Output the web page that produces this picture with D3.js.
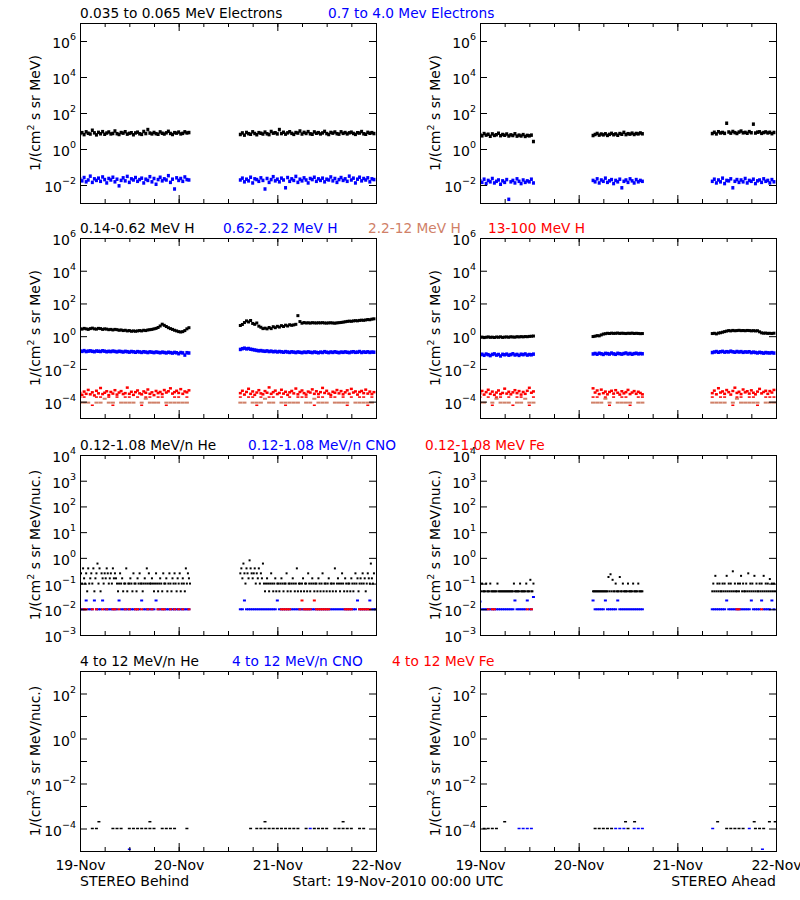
<!DOCTYPE html>
<html><head><meta charset="utf-8">
<script src="https://cdn.jsdelivr.net/npm/d3@7"></script>
<style>body{margin:0;background:#fff}svg{display:block}text{font-family:"DejaVu Sans",sans-serif}</style>
</head><body><svg id="c" width="800" height="900"></svg>
<script>
const _ = null;
const START = Date.UTC(2010, 10, 19);
const dayLabels = ["19-Nov", "20-Nov", "21-Nov", "22-Nov"];
// data segment start hours (Behind, Ahead)
const segStartsBehind = [0, 39];
const segStartsAhead = [0, 27.5, 56.5];

// ---------- Row 1: electrons (30-min samples) ----------
const eLoBehind = [
 [7.2,8.1,6.3,9.0,7.5,6.8,11,7.9,6.1,8.4,7.0,9.2,6.6,7.7,8.8,6.9,7.3,10,7.1,6.4,8.2,7.6,9.1,6.7,7.4,8.0,6.2,7.8,8.6,7.0,6.5,9.4,7.2,12,7.7,6.9,8.3,7.1,6.6,8.9,7.5,6.8,7.9,9.6,7.3,6.4,8.1,7.6,8.7,6.9,7.4,9.0,7.8,8.2],
 [6.4,7.8,5.9,8.3,7.1,6.6,9.0,7.3,6.2,8.1,7.5,6.8,8.7,7.0,6.3,9.4,7.6,8.0,6.9,12,7.2,8.5,6.7,7.9,9.1,7.4,6.5,8.2,7.7,10,6.8,8.4,7.3,9.2,7.0,6.6,8.9,7.5,8.1,6.9,7.8,9.5,7.2,6.4,8.3,7.6,8.8,7.1,6.7,9.0,7.4,8.2,6.9,7.9,8.6,7.3,6.5,8.0,7.7,9.3,7.0,6.6,8.4,7.5,8.1,7.2]];
const eHiBehind = [
 [.021,.017,.026,.015,.019,.031,.014,.022,.018,.024,.016,.028,.020,.013,.023,.019,.027,.015,.021,.009,.018,.025,.017,.030,.014,.022,.019,.026,.016,.020,.024,.013,.021,.018,.029,.015,.023,.011,.020,.027,.017,.022,.019,.033,.014,.021,.006,.025,.018,.023,.016,.028,.020,.019],
 [.019,.024,.015,.021,.017,.027,.013,.022,.020,.016,.025,.018,.006,.023,.014,.020,.029,.017,.021,.015,.024,.019,.007,.026,.016,.022,.018,.030,.014,.021,.017,.025,.019,.013,.023,.020,.027,.016,.022,.018,.024,.015,.021,.019,.028,.017,.023,.014,.020,.026,.018,.022,.016,.031,.019,.024,.013,.021,.027,.017,.023,.019,.025,.015,.022,.020]];
const eLoAhead = [
 [6.3,5.4,7.2,5.9,6.6,5.1,6.9,5.7,6.2,7.5,5.5,6.4,5.8,6.8,5.3,6.1,5.6,7.0,5.2,5.9,5.3,6.3,5.0,5.7,5.4,5.9,2.6],
 [5.6,6.4,7.3,5.9,6.8,6.1,7.0,5.7,6.5,7.4,6.2,6.9,5.8,7.2,6.6,8.4,6.3,7.1,6.7,7.6,6.4,7.3,6.9,7.8,7.0],
 [7.2,8.5,6.9,9.1,7.8,8.3,7.4,27,8.8,7.6,9.4,8.1,7.3,8.7,9.9,7.9,8.4,7.5,9.2,8.0,24,7.7,8.6,9.0,7.4,8.2,8.9,7.8,8.5,7.1,8.3]];
const eHiAhead = [
 [.017,.014,.021,.012,.018,.015,.023,.013,.016,.019,.011,.017,.014,.020,.0016,.015,.018,.013,.022,.016,.012,.019,.014,.017,.015,.021,.013],
 [.018,.015,.022,.013,.019,.016,.024,.014,.017,.020,.012,.018,.015,.021,.007,.016,.019,.014,.022,.017,.013,.020,.015,.018,.016],
 [.016,.021,.013,.019,.015,.024,.012,.018,.017,.022,.007,.016,.020,.014,.019,.015,.023,.013,.018,.016,.021,.012,.017,.019,.014,.022,.016,.018,.013,.020,.015]];

// ---------- Row 2: protons ----------
const h1Behind = [
 [2.9,2.7,3.0,2.8,2.6,2.9,3.1,2.8,2.7,3.0,2.9,2.6,2.8,2.7,2.5,2.6,2.4,2.6,2.5,2.3,2.4,2.2,2.3,2.1,2.2,2.0,2.1,2.0,2.1,2.2,2.1,2.3,2.2,2.4,2.5,2.6,2.8,3.0,3.4,4.2,5.4,4.6,3.9,3.3,2.9,2.6,2.3,2.1,1.9,1.8,1.9,2.2,2.8,3.3],
 [4.5,5.2,6.8,8.6,7.4,9.1,6.0,5.3,6.4,4.1,3.5,2.9,3.1,2.8,3.4,2.9,3.8,3.3,4.0,3.6,4.4,3.9,4.7,4.2,5.0,4.6,4.9,5.3,18,7.8,6.2,6.8,6.4,6.6,6.3,6.7,6.5,6.4,6.6,6.5,6.7,6.4,6.3,6.5,6.6,6.4,6.2,6.5,6.7,6.9,7.2,7.6,8.0,8.3,8.1,8.6,8.9,8.7,9.2,9.5,9.3,9.8,10.4,10.1,11,11.5]];
const h2Behind = [
 [.125,.118,.131,.115,.122,.127,.119,.113,.124,.12,.116,.128,.121,.112,.119,.114,.123,.117,.11,.12,.115,.108,.118,.113,.106,.116,.111,.104,.114,.109,.102,.112,.107,.1,.11,.105,.099,.108,.103,.097,.106,.101,.095,.104,.099,.093,.102,.097,.085,.1,.095,.07,.098,.094],
 [.155,.172,.185,.168,.176,.16,.152,.143,.135,.128,.132,.124,.119,.126,.115,.122,.112,.118,.109,.116,.111,.105,.114,.108,.102,.111,.106,.1,.109,.104,.098,.107,.102,.11,.104,.099,.108,.103,.097,.106,.101,.113,.105,.099,.108,.102,.111,.104,.098,.107,.103,.11,.104,.099,.108,.112,.103,.106,.115,.101,.109,.104,.111,.102,.107,.105]];
const h3Behind = [
 [8.7e-5,8.7e-5,8.7e-5,_,8.7e-5,8.7e-5,1.5e-4,8.7e-5,8.7e-5,_,8.7e-5,8.7e-5,8.7e-5,8.7e-5,_,8.7e-5,1.5e-4,8.7e-5,8.7e-5,8.7e-5,_,8.7e-5,8.7e-5,8.7e-5,8.7e-5,8.7e-5,8.7e-5],
 [8.7e-5,8.7e-5,_,8.7e-5,8.7e-5,8.7e-5,1.5e-4,8.7e-5,8.7e-5,_,8.7e-5,8.7e-5,8.7e-5,8.7e-5,8.7e-5,_,8.7e-5,8.7e-5,1.5e-4,8.7e-5,8.7e-5,8.7e-5,_,8.7e-5,8.7e-5,8.7e-5,8.7e-5,_,8.7e-5,8.7e-5,8.7e-5,8.7e-5,8.7e-5]];
const h4Behind = [
 [3.4e-4,2.6e-4,4.1e-4,3.0e-4,5.2e-4,2.8e-4,3.7e-4,2.4e-4,4.6e-4,3.2e-4,6.8e-4,2.9e-4,3.5e-4,4.3e-4,2.5e-4,3.9e-4,3.1e-4,5.0e-4,2.7e-4,3.6e-4,4.4e-4,2.9e-4,3.3e-4,7.2e-4,3.0e-4,4.0e-4,2.6e-4,3.8e-4,4.8e-4,3.2e-4,2.8e-4,4.2e-4,3.5e-4,5.5e-4,3.0e-4,3.7e-4,2.5e-4,4.5e-4,3.3e-4,3.9e-4,2.9e-4,5.1e-4,3.6e-4,4.3e-4,6.5e-4,3.1e-4,3.8e-4,4.6e-4,3.4e-4,5.8e-4,3.0e-4,4.2e-4,3.7e-4,4.9e-4],
 [3.3e-4,4.6e-4,2.7e-4,3.9e-4,6.1e-4,3.0e-4,4.2e-4,2.6e-4,3.6e-4,5.0e-4,3.2e-4,2.8e-4,4.4e-4,3.5e-4,7.4e-4,3.0e-4,3.8e-4,4.7e-4,2.9e-4,3.4e-4,5.3e-4,3.1e-4,4.0e-4,2.6e-4,3.7e-4,4.5e-4,3.2e-4,6.3e-4,2.8e-4,3.9e-4,4.8e-4,3.3e-4,2.7e-4,4.1e-4,3.6e-4,5.6e-4,3.0e-4,4.3e-4,2.9e-4,3.8e-4,6.9e-4,3.4e-4,4.6e-4,3.1e-4,2.6e-4,4.0e-4,3.5e-4,5.1e-4,3.2e-4,4.4e-4,2.8e-4,3.7e-4,4.9e-4,3.0e-4,6.0e-4,3.6e-4,4.2e-4,2.7e-4,3.9e-4,4.5e-4,3.3e-4,5.4e-4,3.1e-4,4.1e-4,2.9e-4,3.8e-4]];
const h4LowBehind = [
 [1.9e-4,1.9e-4,_,6e-5,1.9e-4,1.9e-4,_,1.9e-4,6e-5,1.9e-4,_,1.9e-4,1.9e-4,_,1.9e-4,6e-5,1.9e-4,1.9e-4,_,1.9e-4,1.9e-4,6e-5,_,1.9e-4,1.9e-4,_,1.9e-4],
 [1.9e-4,_,1.9e-4,1.9e-4,6e-5,1.9e-4,_,1.9e-4,1.9e-4,_,1.9e-4,6e-5,1.9e-4,_,1.9e-4,1.9e-4,1.9e-4,_,6e-5,1.9e-4,1.9e-4,_,1.9e-4,1.9e-4,_,1.9e-4,6e-5,1.9e-4,_,1.9e-4,1.9e-4,6e-5,1.9e-4]];
const h1Ahead = [
 [.84,.88,.82,.86,.9,.85,.87,.83,.89,.86,.91,.84,.88,.9,.86,.92,.89,.87,.93,.9,.94,.91,.95,.93,.97,.99,1.02],
 [.95,1.0,1.08,1.05,1.2,1.35,1.42,1.5,1.46,1.53,1.48,1.5,1.55,1.47,1.52,1.49,1.45,1.51,1.48,1.54,1.46,1.5,1.47,1.43,1.45],
 [1.45,1.5,1.38,1.55,1.62,1.75,1.9,2.05,2.2,2.1,2.25,2.15,2.2,2.28,2.18,2.22,2.15,2.24,2.2,2.12,2.18,2.1,2.15,1.85,1.6,1.52,1.55,1.48,1.5,1.45,1.52]];
const h2Ahead = [
 [.072,.079,.068,.081,.074,.065,.077,.083,.07,.076,.062,.078,.073,.08,.069,.075,.084,.071,.077,.067,.079,.074,.082,.07,.076,.073,.08],
 [.082,.088,.079,.091,.084,.077,.089,.086,.081,.093,.083,.078,.09,.085,.08,.087,.094,.082,.088,.079,.086,.091,.083,.087,.084],
 [.1,.108,.115,.104,.112,.118,.106,.113,.109,.121,.111,.105,.116,.108,.114,.103,.11,.107,.112,.099,.106,.101,.095,.103,.098,.092,.1,.096,.094,.099,.093]];
const h3Ahead = [
 [8.7e-5,8.7e-5,_,8.7e-5,1.5e-4,8.7e-5,8.7e-5,8.7e-5,_,8.7e-5,8.7e-5,1.5e-4,8.7e-5,8.7e-5],
 [8.7e-5,8.7e-5,8.7e-5,1.5e-4,8.7e-5,_,8.7e-5,8.7e-5,8.7e-5,8.7e-5,_,8.7e-5,8.7e-5],
 [8.7e-5,8.7e-5,8.7e-5,8.7e-5,_,8.7e-5,1.5e-4,8.7e-5,8.7e-5,8.7e-5,8.7e-5,8.7e-5,_,8.7e-5,8.7e-5,8.7e-5]];
const h4Ahead = [
 [3.2e-4,4.5e-4,2.7e-4,3.8e-4,5.3e-4,3.0e-4,4.1e-4,2.6e-4,3.6e-4,4.8e-4,2.9e-4,3.4e-4,6.2e-4,3.1e-4,4.0e-4,2.8e-4,3.7e-4,5.0e-4,3.3e-4,4.4e-4,2.7e-4,3.9e-4,3.0e-4,4.6e-4,7.0e-4,3.5e-4,4.2e-4],
 [6.5e-4,3.6e-4,4.8e-4,2.9e-4,5.4e-4,3.3e-4,4.1e-4,2.8e-4,3.9e-4,4.6e-4,3.1e-4,5.0e-4,3.5e-4,2.7e-4,4.3e-4,3.2e-4,3.8e-4,5.2e-4,2.9e-4,3.6e-4,4.4e-4,3.0e-4,4.0e-4,3.4e-4,2.8e-4],
 [3.3e-4,4.7e-4,2.8e-4,6.6e-4,3.6e-4,4.2e-4,3.0e-4,5.1e-4,3.8e-4,2.7e-4,4.5e-4,7.1e-4,3.4e-4,4.0e-4,2.9e-4,5.5e-4,3.7e-4,4.3e-4,3.1e-4,4.9e-4,3.5e-4,2.8e-4,4.1e-4,6.0e-4,3.2e-4,3.9e-4,4.6e-4,3.0e-4,4.4e-4,3.6e-4,5.2e-4]];
const h4LowAhead = [
 [1.9e-4,_,1.9e-4,6e-5,1.9e-4,1.9e-4,_,1.9e-4,6e-5,1.9e-4,1.9e-4,_,6e-5,1.9e-4],
 [1.9e-4,1.9e-4,_,1.9e-4,6e-5,1.9e-4,_,1.9e-4,1.9e-4,6e-5,_,1.9e-4,1.9e-4],
 [1.9e-4,_,1.9e-4,1.9e-4,_,6e-5,1.9e-4,1.9e-4,_,1.9e-4,1.9e-4,6e-5,_,1.9e-4,1.9e-4,1.9e-4]];

// ---------- Row 3: 0.12-1.08 MeV/n ions ----------
const heBehind = [
 [.01,.25,.1,.39,.16,.1,.25,.05,.39,.1,.16,.25, .1,.39,.05,.16,.25,.6,.1,.39,.05,.25,.16,.1, .25,.16,.39,.25,.1,.16,.25,.1,.39,.16,.25,.16,
  .1,.05,.1,.25,.1,.16,.05,.1,.1,.39,.05,.1, .1,.16,.1,.05,.25,.1,.1,.05,.16,.1,.25,.1, .1,.05,.1,.16,.1,.39,.1,.25,.1,.1,.16,.1,
  .05,.1,.25,.1,.05,.1,.16,.1,.05,.25,.1,.1, .16,.05,.1,.25,.1,.05,.16,.1,.25,.1,.05,.16, .1,.25,.05,.1,.16,.1,.05,.39,.1,.25,.16,.1],
 [.25,.39,.16,.6,.25,.1,.39,.25,.16,.8,.39,.25, .16,.25,.39,.1,.25,.16,.39,.1,.25,.16,.6,.1, .05,.1,.16,.1,.05,.1,.25,.1,.05,.1,.16,.05,
  .1,.1,.05,.1,.16,.1,.05,.1,.1,.25,.05,.1, .1,.05,.1,.16,.1,.05,.1,.39,.05,.1,.1,.05, .1,.16,.05,.1,.1,.05,.25,.1,.05,.1,.16,.1,
  .05,.1,.1,.05,.16,.1,.05,.1,.25,.05,.1,.1, .05,.1,.16,.05,.1,.1,.05,.1,.39,.05,.1,.16, .1,.05,.1,.25,.1,.05,.16,.1,.05,.1,.1,.05,
  .16,.1,.05,.1,.25,.1,.16,.05,.1,.16,.1,.25, .1,.16,.05,.1,.25,.16,.1,.6,.16,.1,.25,.01]];
const cnoBehind = [
 [.01,.01,.01,.022,.01,.01,.01,.022,.01,.01,.01,.022,.01,.01,.01,.01,.01,.01,.01,.022,.01,.01,.01,.01,.01,.01,.01,.01,.01,.01,.022,.01,.01,.01,.01,.01,.01,.022,.01,.01,.01,.01,.01,.01,.01,.01,.01,.01,.01,.01,.01,.01,.01,.01],
 [.01,.01,.022,.01,.01,.01,.01,.01,.01,.01,.01,.01,.01,.01,.01,.01,.01,.01,.022,.01,.01,.01,.01,.01,.01,.01,.01,.01,.01,.01,.01,.01,.01,.01,.01,.01,.01,.01,.01,.01,.01,.01,.01,.01,.01,.01,.01,.01,.01,.01,.01,.01,.01,.01,.01,.01,.01,.022,.01,.01,.01,.01,.01,.022,.01,.01]];
const feBehind = [
 [.01,_,.01,.01,_,_,.01,_,.01,_,_,.01,_,.01,_,_,.01,.01,_,.01,_,_,.01,_,.01,_,_,.01,.01,_,.01,_,_,.01,_,.01,_,_,.01,_,.01,.01,_,_,.01,_,.01,_,.01,_,.01,_,_,.01],
 [_,_,_,_,_,_,_,_,_,_,_,_,_,_,_,_,_,_,_,_,.01,.01,.01,.01,.01,_,_,_,_,.01,.022,.01,.01,.01,.01,_,.022,.01,.01,.01,.01,.01,.01,.01,_,_,_,_,_,_,_,.01,.01,.01,.01,_,_,_,.01,.01,.01,.01,.01,.01,_,_]];
const heAhead = [
 [.05,.05,.1,.05,.05,.05,.1,.05,.05,.05,.1,.05, .05,.05,.05,.05,.05,.1,.05,.05,.05,.05,.05,.05, .05,.05,.05,.05,.05,.05,.05,.05,.05,.1,.05,.05, .05,.05,.05,.1,.05,.05,.05,.05,.05,.1,.05,.05, .05,.14,.05,.05,.1],
 [.05,.05,.05,.05,.05,.05,.05,.05,.05,.05,.05,.05, .05,.05,.05,.18,.05,.23,.05,.14,.05,.05,.1,.05, .05,.05,.18,.05,.05,.1,.05,.05,.05,.05,.1,.05, .05,.05,.05,.1,.05,.05,.05,.05,.1,.05,.05,.05, .05],
 [.05,.1,.05,.2,.05,.1,.05,.1,.05,.05,.1,.05, .1,.05,.2,.05,.1,.05,.1,.05,.3,.05,.1,.05, .05,.1,.05,.1,.2,.05,.1,.05,.05,.1,.05,.25, .05,.1,.05,.1,.05,.2,.05,.1,.05,.05,.1,.05, .1,.05,.2,.05,.1,.05,.1,.05,.15,.05,.1,.05,.1,.05]];
const cnoAhead = [
 [.02,.01,.01,.01,.01,.01,.01,.01,.01,.01,.01,.01,.01,.01,.01,.01,.01,.022,.01,.01,.01,.01,.01,.022,.01,.01,.03],
 [.022,.01,.01,.01,.01,.01,.022,.01,.01,.01,.01,.01,.022,.01,.01,.01,.01,.01,.01,.01,.01,.01,.01,.01,.01],
 [.01,.01,.01,.01,.01,.01,.01,.022,.01,.01,.01,.01,.01,.01,.01,.01,.01,.01,.01,.022,.01,.01,.01,.01,.022,.01,.01,.01,.01,.022,.01]];
const feAhead = [
 [_,_,_,_,.01,_,.01,.01,_,_,_,_,_,_,_,_,_,_,_,_,_,_,_,.01,_,.01,_],
 [],
 [_,_,_,_,_,_,_,_,_,_,_,_,.01,.01,_,_,_,_,_,_,_,_,_,_,.01,_,_,_,_,_,_]];

// ---------- Row 4: 4-12 MeV/n ions, sparse points [hour, value] ----------
const he4Behind = [[3,1e-4],[4,1e-4],[4.6,2e-4],[8,1e-4],[9,1e-4],[10,1e-4],[12,1e-4],[13,1e-4],[14,1e-4],[15,1e-4],[16,1e-4],[17,1e-4],[17,2e-4],[18,1e-4],[20,1e-4],[21,1e-4],[22,1e-4],[23,1e-4],[26,1e-4],
 [41.5,1e-4],[43,1e-4],[44,1e-4],[45,1e-4],[45,2e-4],[46,1e-4],[47,1e-4],[48,1e-4],[49,1e-4],[50,1e-4],[51,1e-4],[52,1e-4],[53,1e-4],[55,1e-4],[57,1e-4],[58,1e-4],[59,1e-4],[60,1e-4],[62,1e-4],[63,1e-4],[64,2e-4],[64,1e-4],[65,1e-4],[66,1e-4],[68,1e-4],[69,1e-4]];
const cno4Behind = [[12,1.2e-5],[56,1e-4]];
const fe4Behind = [];
const he4Ahead = [[1,1e-4],[2,1e-4],[3,1e-4],[4,1e-4],[6,2e-4],[28,1e-4],[29,1e-4],[30,1e-4],[31,1e-4],[32,1e-4],[35.4,2e-4],[36,1e-4],[37.6,2e-4],
 [57.8,2e-4],[60,1e-4],[61,1e-4],[62,1e-4],[63,1e-4],[64,1e-4],[66.7,2e-4],[67,1e-4],[68,1e-4],[69,1e-4],[70.4,2e-4],[71.8,2e-4]];
const cno4Ahead = [[9.5,1e-4],[10.5,1e-4],[11.5,1e-4],[12.5,1e-4],[33,1e-4],[34,1e-4],[35,1e-4],[37.5,1e-4],[38.5,1e-4],[39.5,1e-4],[56.6,1e-4],[65.5,1e-4],[68.7,1.2e-5]];
const fe4Ahead = [];

// ---------- labels ----------
const row1Titles = ["0.035 to 0.065 MeV Electrons", "0.7 to 4.0 Mev Electrons"];
const row2Titles = ["0.14-0.62 MeV H", "0.62-2.22 MeV H", "2.2-12 MeV H", "13-100 MeV H"];
const row3Titles = ["0.12-1.08 MeV/n He", "0.12-1.08 MeV/n CNO", "0.12-1.08 MeV Fe"];
const row4Titles = ["4 to 12 MeV/n He", "4 to 12 MeV/n CNO", "4 to 12 MeV Fe"];
const unitTailA = " s sr MeV)";
const unitTailB = " s sr MeV/nuc.)";
const footer = ["STEREO Behind", "Start: 19-Nov-2010 00:00 UTC", "STEREO Ahead"];

// ---------- styles & layout ----------
const BLACK = "#000000", BLUE = "#0000ff", RED = "#ff0000", SIENNA = "#d08068";
const COL_X = [80, 480], PW = 296, PH = 180;
const rows = [
  { top: 23, domain: [1e-3, 1e7], tickExps: [-2,0,2,4,6], labelExps: [-2,0,2,4,6],
    titles: row1Titles, titleX: [80, 328], titleColors: [BLACK, BLUE], unit: unitTailA,
    series: [
      { d: [eLoBehind, eLoAhead], step: 0.5, color: BLACK, w: 3, h: 3.5 },
      { d: [eHiBehind, eHiAhead], step: 0.5, color: BLUE, w: 3, h: 3.5 }] },
  { top: 238, domain: [1e-5, 1e6], tickExps: [-4,-2,0,2,4,6], labelExps: [-4,-2,0,2,4,6],
    titles: row2Titles, titleX: [80, 223, 368, 488], titleColors: [BLACK, BLUE, SIENNA, RED], unit: unitTailA,
    series: [
      { d: [h1Behind, h1Ahead], step: 0.5, color: BLACK, w: 3, h: 3 },
      { d: [h2Behind, h2Ahead], step: 0.5, color: BLUE, w: 3, h: 3.5 },
      { d: [h3Behind, h3Ahead], step: 1, color: SIENNA, w: 4, h: 2 },
      { d: [h4Behind, h4Ahead], step: 0.5, color: RED, w: 3, h: 2.5 },
      { d: [h4LowBehind, h4LowAhead], step: 1, color: RED, w: 3, h: 1.5 }] },
  { top: 455, domain: [1e-3, 1e4], tickExps: [-3,-2,-1,0,1,2,3,4], labelExps: [-3,-2,-1,0,1,2,3,4],
    titles: row3Titles, titleX: [80, 248, 425], titleColors: [BLACK, BLUE, RED], unit: unitTailB,
    series: [
      { d: [heBehind, heAhead], step: 0.25, color: BLACK, w: 2, h: 2 },
      { d: [cnoBehind, cnoAhead], step: 0.5, color: BLUE, w: 3, h: 2 },
      { d: [feBehind, feAhead], step: 0.5, color: RED, w: 3, h: 2 }] },
  { top: 671, domain: [1e-5, 1e3], tickExps: [-4,-3,-2,-1,0,1,2], labelExps: [-4,-2,0,2],
    titles: row4Titles, titleX: [80, 232, 392], titleColors: [BLACK, BLUE, RED], unit: unitTailB,
    points: [
      { d: [he4Behind, he4Ahead], color: BLACK, w: 3, h: 1.5 },
      { d: [cno4Behind, cno4Ahead], color: BLUE, w: 3, h: 1.5 },
      { d: [fe4Behind, fe4Ahead], color: RED, w: 3, h: 1.5 }] }
];
const segStarts = [segStartsBehind, segStartsAhead];

const svg = d3.select("#c");
const hour = h => new Date(START + h * 3600e3);
const xBase = d3.scaleUtc().domain([hour(0), hour(72)]);
const FS = "14px";

function supLabel(sel, exp, x, y, anchor) {
  const t = sel.append("text").attr("x", x).attr("y", y).attr("text-anchor", anchor).style("font-size", FS).attr("fill", BLACK);
  t.append("tspan").text("10");
  t.append("tspan").attr("dy", -8).style("font-size", "9.5px").text(String(exp).replace("-", "\u2212"));
  return t;
}

rows.forEach((row, r) => {
  const top = row.top;
  const y = d3.scaleLog().domain(row.domain).range([top + PH, top]);
  row.titles.forEach((t, i) => svg.append("text").attr("x", row.titleX[i]).attr("y", top - 5)
    .attr("fill", row.titleColors[i]).style("font-size", "13.7px").text(t));

  [0, 1].forEach(c => {
    const x0 = COL_X[c], x1 = x0 + PW;
    const x = xBase.copy().range([x0, x1]);
    const cid = `clip${r}${c}`;
    svg.append("clipPath").attr("id", cid).append("rect").attr("x", x0).attr("y", top).attr("width", PW).attr("height", PH);
    const dg = svg.append("g").attr("clip-path", `url(#${cid})`);

    (row.series || []).forEach(s => {
      const pts = [];
      s.d[c].forEach((vals, si) => vals.forEach((v, i) => {
        if (v != null) pts.push({ t: hour(segStarts[c][si] + i * s.step), v });
      }));
      dg.append("g").selectAll("rect").data(pts).join("rect")
        .attr("x", d => x(d.t) - s.w / 2).attr("y", d => y(d.v) - s.h / 2)
        .attr("width", s.w).attr("height", s.h).attr("fill", s.color);
    });
    (row.points || []).forEach(s => {
      dg.append("g").selectAll("rect").data(s.d[c]).join("rect")
        .attr("x", d => x(hour(d[0])) - s.w / 2).attr("y", d => y(d[1]) - s.h / 2)
        .attr("width", s.w).attr("height", s.h).attr("fill", s.color);
    });

    // frame
    svg.append("rect").attr("x", x0 + 0.5).attr("y", top + 0.5).attr("width", PW).attr("height", PH)
      .attr("fill", "none").attr("stroke", BLACK).attr("stroke-width", 1).attr("shape-rendering", "crispEdges");

    const tv = row.tickExps.map(e => Math.pow(10, e));
    const ax = g => g.call(a => a.select(".domain").remove()).attr("color", BLACK);
    svg.append("g").attr("transform", `translate(${x0},0)`).call(d3.axisLeft(y).tickValues(tv).tickSize(-7).tickFormat("")).call(ax);
    svg.append("g").attr("transform", `translate(${x1},0)`).call(d3.axisRight(y).tickValues(tv).tickSize(-7).tickFormat("")).call(ax);
    svg.append("g").attr("transform", `translate(0,${top + PH})`).call(d3.axisBottom(x).ticks(d3.utcHour.every(6)).tickSize(-4).tickFormat("")).call(ax);
    svg.append("g").attr("transform", `translate(0,${top})`).call(d3.axisTop(x).ticks(d3.utcHour.every(6)).tickSize(-4).tickFormat("")).call(ax);
    svg.append("g").attr("transform", `translate(0,${top})`).call(d3.axisTop(x).ticks(d3.utcDay).tickSize(-8).tickFormat("")).call(ax);
    const last = r === rows.length - 1;
    const bx = svg.append("g").attr("transform", `translate(0,${top + PH})`)
      .call(d3.axisBottom(x).ticks(d3.utcDay).tickSize(-8).tickPadding(9).tickFormat((d, i) => last ? dayLabels[i] : "")).call(ax);
    bx.selectAll("text").style("font-size", FS).attr("font-family", "DejaVu Sans").attr("fill", BLACK);

    row.labelExps.forEach(e => supLabel(svg, e, x0 - 4, y(Math.pow(10, e)) + 7, "end"));

    const yt = svg.append("text").attr("transform", `translate(${x0 - 40},${top + PH / 2}) rotate(-90)`)
      .attr("text-anchor", "middle").style("font-size", FS).attr("fill", BLACK);
    yt.append("tspan").text("1/(cm");
    yt.append("tspan").attr("dy", -6).style("font-size", "9.5px").text("2");
    yt.append("tspan").attr("dy", 6).text(row.unit);
  });
});

svg.append("text").attr("x", 80).attr("y", 886).style("font-size", FS).text(footer[0]);
svg.append("text").attr("x", 292.5).attr("y", 886).style("font-size", FS).text(footer[1]);
svg.append("text").attr("x", 776).attr("y", 886).attr("text-anchor", "end").style("font-size", FS).text(footer[2]);
</script></body></html>
